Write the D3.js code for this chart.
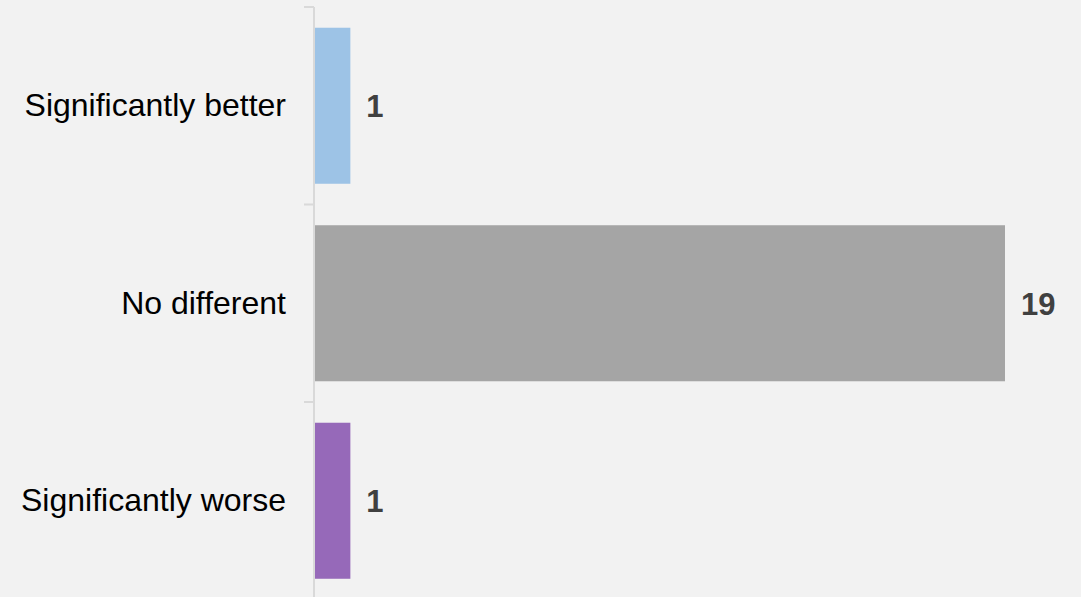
<!DOCTYPE html>
<html>
  <head>
    <meta charset="utf-8">
    <title>Comparison counts</title>
    <script src="https://cdn.jsdelivr.net/npm/d3@7"></script>
    <style>
      body { margin: 0; background: #f2f2f2; }
      svg { display: block; }
      .cat-label { font-family: "Liberation Sans", Arial, sans-serif; font-size: 32px; fill: #000; }
      .val-label { font-family: "Liberation Sans", Arial, sans-serif; font-size: 31px; font-weight: bold; fill: #404040; }
    </style>
  </head>
  <body>
    <svg id="chart" width="1081" height="597"></svg>
    <script>
    // data
    const categories = ["Significantly better", "No different", "Significantly worse"];
    const counts = [1, 19, 1];
    const barColors = ["#9dc3e6", "#a5a5a5", "#9669b9"];

    const svg = d3.select("#chart");
    const axisX = 314;

    let x = d3.scaleLinear()
      .domain([0, 19])
      .range([axisX, 1005]);

    let y = d3.scaleBand()
      .domain(categories)
      .range([7, 599.5])
      .paddingInner(0.21)
      .paddingOuter(0.105);

    svg.append("rect")
      .attr("width", 1081).attr("height", 597)
      .attr("fill", "#f2f2f2");

    // bars
    svg.append("g")
      .selectAll("rect")
      .data(categories)
      .enter().append("rect")
        .attr("x", x(0))
        .attr("y", d => y(d))
        .attr("width", (d, i) => x(counts[i]) - x(0))
        .attr("height", y.bandwidth())
        .attr("fill", (d, i) => barColors[i]);

    // category axis, ticks sit on band boundaries
    const edges = categories.map(d => y(d) - y.step() * y.paddingInner() / 2);
    edges.push(edges[edges.length - 1] + y.step());

    const axis = svg.append("g");
    axis.append("line")
      .attr("x1", axisX).attr("x2", axisX)
      .attr("y1", edges[0]).attr("y2", edges[edges.length - 1])
      .attr("stroke", "#d9d9d9").attr("stroke-width", 2);
    axis.selectAll("line.tick")
      .data(edges)
      .enter().append("line")
        .attr("class", "tick")
        .attr("x1", axisX - 10).attr("x2", axisX)
        .attr("y1", d => d).attr("y2", d => d)
        .attr("stroke", "#d9d9d9").attr("stroke-width", 2);

    axis.selectAll("text")
      .data(categories)
      .enter().append("text")
        .attr("class", "cat-label")
        .attr("x", axisX - 28)
        .attr("y", d => y(d) + y.bandwidth() / 2)
        .attr("dy", "0.33em")
        .attr("text-anchor", "end")
        .text(d => d);

    // value labels
    svg.append("g")
      .selectAll("text")
      .data(categories)
      .enter().append("text")
        .attr("class", "val-label")
        .attr("x", (d, i) => x(counts[i]) + 16)
        .attr("y", d => y(d) + y.bandwidth() / 2)
        .attr("dy", "0.37em")
        .text((d, i) => counts[i]);
    </script>
  </body>
</html>
